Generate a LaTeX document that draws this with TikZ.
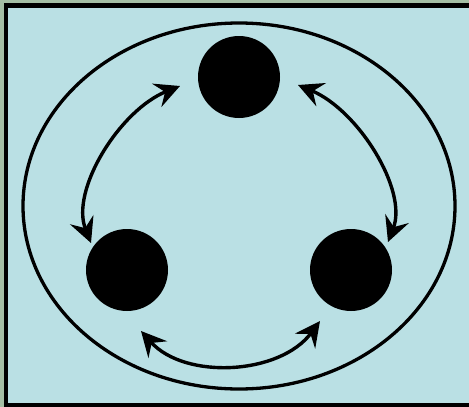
\documentclass[tikz,border=0pt]{standalone}
\usetikzlibrary{arrows.meta}
\definecolor{outergreen}{HTML}{A5BFA5}
\definecolor{innerblue}{HTML}{BAE0E4}
\tikzset{
  dot/.style={circle, fill=black, minimum size=82pt, inner sep=0pt},
  twoway/.style={line width=3.4pt, {Stealth[length=25pt,width=25pt,inset=9pt]}-{Stealth[length=25pt,width=25pt,inset=9pt]}},
}
\begin{document}
\begin{tikzpicture}[x=1pt,y=-1pt]
\useasboundingbox (0,0) rectangle (469,407);
\fill[outergreen] (0,0) rectangle (469,407);
\begin{scope}
\clip (0,0) rectangle (469,407);
\draw[fill=innerblue, line width=4.2pt] (6,5.5) rectangle (490,405);
\end{scope}
\draw[line width=3.3pt] (239,206) ellipse [x radius=216, y radius=183];
\node[dot] (top) at (239,77) {};
\node[dot] (left) at (127,270) {};
\node[dot] (right) at (351,270) {};
\coordinate (ta) at (180,86);
\coordinate (la) at (91,243);
\coordinate (tb) at (298,85);
\coordinate (rb) at (388,242);
\coordinate (lc) at (141,331);
\coordinate (rc) at (320,321);
\draw[twoway] (ta) .. controls (120,110) and (70,190) .. (la);
\draw[twoway] (tb) .. controls (358,110) and (408,190) .. (rb);
\draw[twoway] (lc) .. controls (185,380) and (280,375) .. (rc);
\end{tikzpicture}
\end{document}
